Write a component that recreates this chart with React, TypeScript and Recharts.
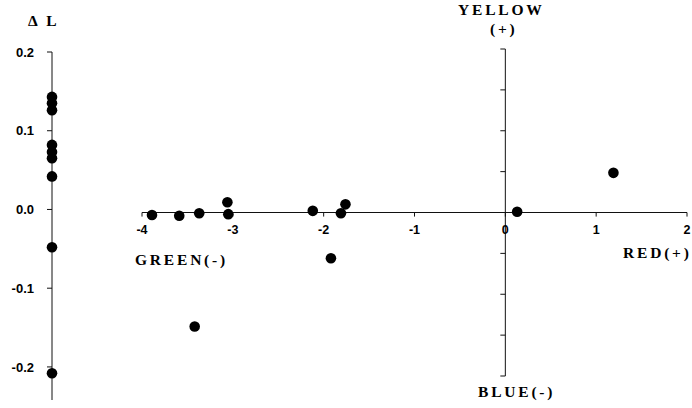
import React from 'react';
import { ScatterChart, Scatter, XAxis, YAxis, ReferenceLine } from 'recharts';

// ΔL values, plotted on a single vertical axis
const deltaL = [0.143, 0.135, 0.126, 0.082, 0.073, 0.065, 0.042, -0.048, -0.208];
const deltaLTicks = [0.2, 0.1, 0, -0.1, -0.2];

// Δa (green/red) and Δb (blue/yellow) pairs
const deltaA = [-3.89, -3.59, -3.37, -3.06, -3.05, -2.12, -1.81, -1.76, -1.92, -3.42, 0.13, 1.19];
const deltaB = [-0.06, -0.08, -0.02, 0.25, -0.04, 0.04, -0.02, 0.2, -1.12, -2.79, 0.02, 0.97];
const aTicks = [-4, -3, -2, -1, 0, 1, 2];
const bTicks = [-4, -3, -2, -1, 0, 1, 2, 3, 4];

const lData = deltaL.map(v => ({ x: 0, dl: v }));
const abData = deltaA.map((a, i) => ({ a, b: deltaB[i] }));

const SANS = '"Liberation Sans", Arial, sans-serif';
const SERIF = '"Liberation Serif", "Times New Roman", serif';
const INK = '#111';

const Dot = (p: any) => <circle cx={p.cx} cy={p.cy} r={5.3} fill="#000" />;

const labelStyle = { fontFamily: SERIF, fontWeight: 'bold', fontSize: 15.5, letterSpacing: 2.8, fill: '#000' } as const;

export default function App() {
  return (
    <div style={{ position: 'absolute', left: 0, top: 0, width: 692, height: 408, background: '#fff' }}>
      <div style={{ position: 'absolute', left: 0, top: 0 }}>
        <ScatterChart width={100} height={408} margin={{ top: 52, right: 20, bottom: 8, left: 0 }}>
          <XAxis type="number" dataKey="x" domain={[0, 1]} hide />
          <YAxis type="number" dataKey="dl" domain={[-0.242, 0.2]} ticks={deltaLTicks} width={52}
            tickSize={5} tickMargin={13} stroke={INK} tickFormatter={(v: number) => v.toFixed(1)}
            tick={{ fontSize: 13, fontWeight: 'bold', fill: '#000', fontFamily: SANS }} />
          <Scatter data={lData} shape={Dot} isAnimationActive={false} />
        </ScatterChart>
      </div>

      <div style={{ position: 'absolute', left: 100, top: 0 }}>
        <ScatterChart width={592} height={408} margin={{ top: 49, right: 5, bottom: 32, left: 42 }}>
          <XAxis type="number" dataKey="a" domain={[-4, 2]} hide />
          <YAxis type="number" dataKey="b" domain={[-4, 4]} hide />
          <ReferenceLine y={0} stroke={INK} />
          <ReferenceLine x={0} stroke={INK} />
          {aTicks.map(t => (
            <ReferenceLine key={'a' + t} segment={[{ x: t, y: 0 }, { x: t, y: -0.1 }]} stroke={INK}
              label={{ value: String(t), position: 'bottom', offset: 9, fontSize: 12.5, fontWeight: 'bold', fill: '#000', fontFamily: SANS }} />
          ))}
          {bTicks.map(t => (
            <ReferenceLine key={'b' + t} segment={[{ x: 0, y: t }, { x: -0.055, y: t }]} stroke={INK} />
          ))}
          <Scatter data={abData} shape={Dot} isAnimationActive={false} />
        </ScatterChart>
      </div>

      <svg width={692} height={408} style={{ position: 'absolute', left: 0, top: 0, pointerEvents: 'none' }}>
        <text x={28} y={26} {...labelStyle}>Δ L</text>
        <text x={458} y={15} {...labelStyle}>YELLOW</text>
        <text x={490} y={34} {...labelStyle}>(+)</text>
        <text x={135} y={265} {...labelStyle}>GREEN(-)</text>
        <text x={623} y={258} {...labelStyle}>RED(+)</text>
        <text x={478} y={397} {...labelStyle}>BLUE(-)</text>
      </svg>
    </div>
  );
}
